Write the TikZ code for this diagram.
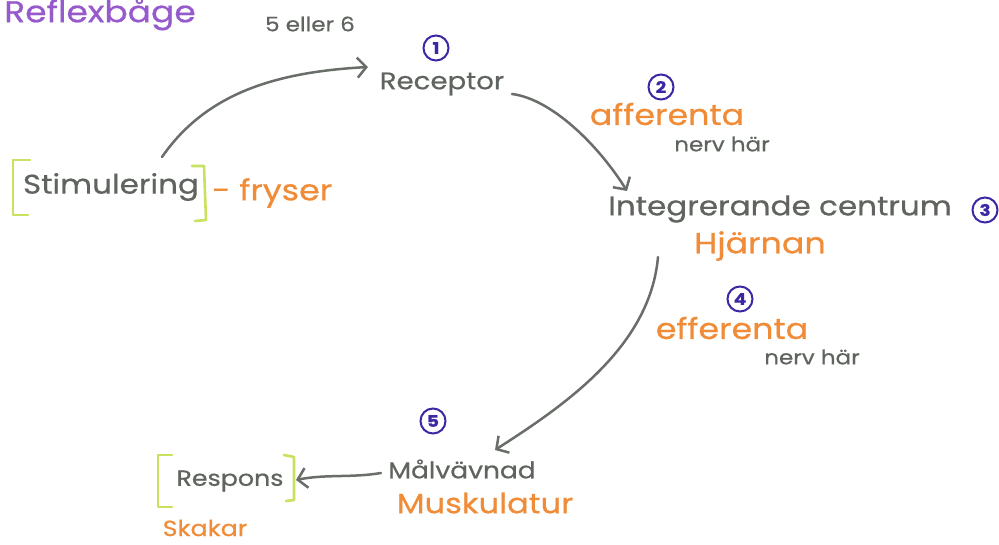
\documentclass[tikz,border=0pt]{standalone}
\usepackage{fontspec}
\setmainfont{Poppins}[FakeStretch=1.15, FakeBold=0.6]
\usetikzlibrary{arrows.meta,calc}
\definecolor{ink}{RGB}{95,100,95}
\definecolor{arrowc}{RGB}{105,110,105}
\definecolor{orng}{RGB}{240,140,55}
\definecolor{purp}{RGB}{150,90,205}
\definecolor{numc}{RGB}{60,40,165}
\definecolor{brk}{RGB}{200,225,95}
\newcommand{\fsz}[1]{\fontsize{#1}{#1}\selectfont}
\tikzset{
  lbl/.style={inner sep=0pt, text=ink, font=\fsz{24}},
  sub/.style={inner sep=0pt, text=orng, font=\fsz{29}},
  small/.style={inner sep=0pt, text=ink, font=\fsz{20}},
  num/.style={circle, draw=numc, line width=2pt, text=numc, inner sep=0pt, minimum size=25pt, font=\fsz{16}\bfseries},
  conn/.style={draw=arrowc, line width=2.5pt, line cap=round, -{Straight Barb[length=9pt,width=20pt,line width=2.5pt]}},
  bracket/.style={draw=brk, line width=2.6pt, line cap=round, line join=round}
}
\begin{document}
\begin{tikzpicture}[x=1pt,y=-1pt]
\useasboundingbox[fill=white] (0,0) rectangle (999,544);

% title and note
\node[inner sep=0pt, text=purp, font=\fsz{30}] (title) at (100,14) {Reflexbåge};
\node[small] (note) at (310,24) {5 eller 6};

% main nodes
\node[lbl, font=\fsz{27}] (stim) at (111,187) {Stimulering};
\node[sub, anchor=west] (fryser) at (212,193) {- fryser};
\node[lbl] (rec) at (442,84) {Receptor};
\node[lbl, font=\fsz{27}] (int) at (780,209) {Integrerande centrum};
\node[sub] (hjarna) at (760,246) {Hjärnan};
\node[lbl, font=\fsz{23}] (mal) at (462,469) {Målvävnad};
\node[sub, font=\fsz{28}] (musk) at (485,503) {Muskulatur};
\node[lbl, font=\fsz{22}] (resp) at (230,481) {Respons};
\node[sub, font=\fsz{22}] (skak) at (205,528) {Skakar};

% connector labels
\node[sub] (aff) at (667,114) {afferenta};
\node[small] (aff2) at (722,144) {nerv här};
\node[sub] (eff) at (732,328) {efferenta};
\node[small] (eff2) at (812,357) {nerv här};

% numbers
\node[num] (n1) at (436,48) {1};
\node[num] (n2) at (661,87) {2};
\node[num] (n3) at (985,210) {3};
\node[num] (n4) at (740,299) {4};
\node[num] (n5) at (433,421) {5};

% brackets
\draw[bracket] (30,160) -- (13,160) -- (13,215) -- (28,215);
\draw[bracket] (192,166) -- (204,166) -- (206,220) -- (195,221);
\draw[bracket] (172,455) -- (158,455) -- (158,507) -- (172,507);
\draw[bracket] (284,455) -- (294,457) -- (294,500) -- (286,501);

% connectors
\draw[conn] ([shift={(51pt,30pt)}]stim.center) .. controls +(45,-65) and +(-90,5) .. ([shift={(-74pt,17pt)}]rec.center);
\draw[conn] ([shift={(70pt,-10pt)}]rec.center) .. controls +(40,5) and +(-28,-45) .. ([shift={(-153pt,18pt)}]int.center);
\draw[conn] ([shift={(-122pt,-48pt)}]int.center) .. controls +(-8,90) and +(70,-45) .. ([shift={(33pt,19pt)}]mal.center);
\draw[conn] ([shift={(-81pt,-4pt)}]mal.center) .. controls +(-30,5) and +(30,-6) .. ([shift={(66pt,1pt)}]resp.center);
\end{tikzpicture}
\end{document}
